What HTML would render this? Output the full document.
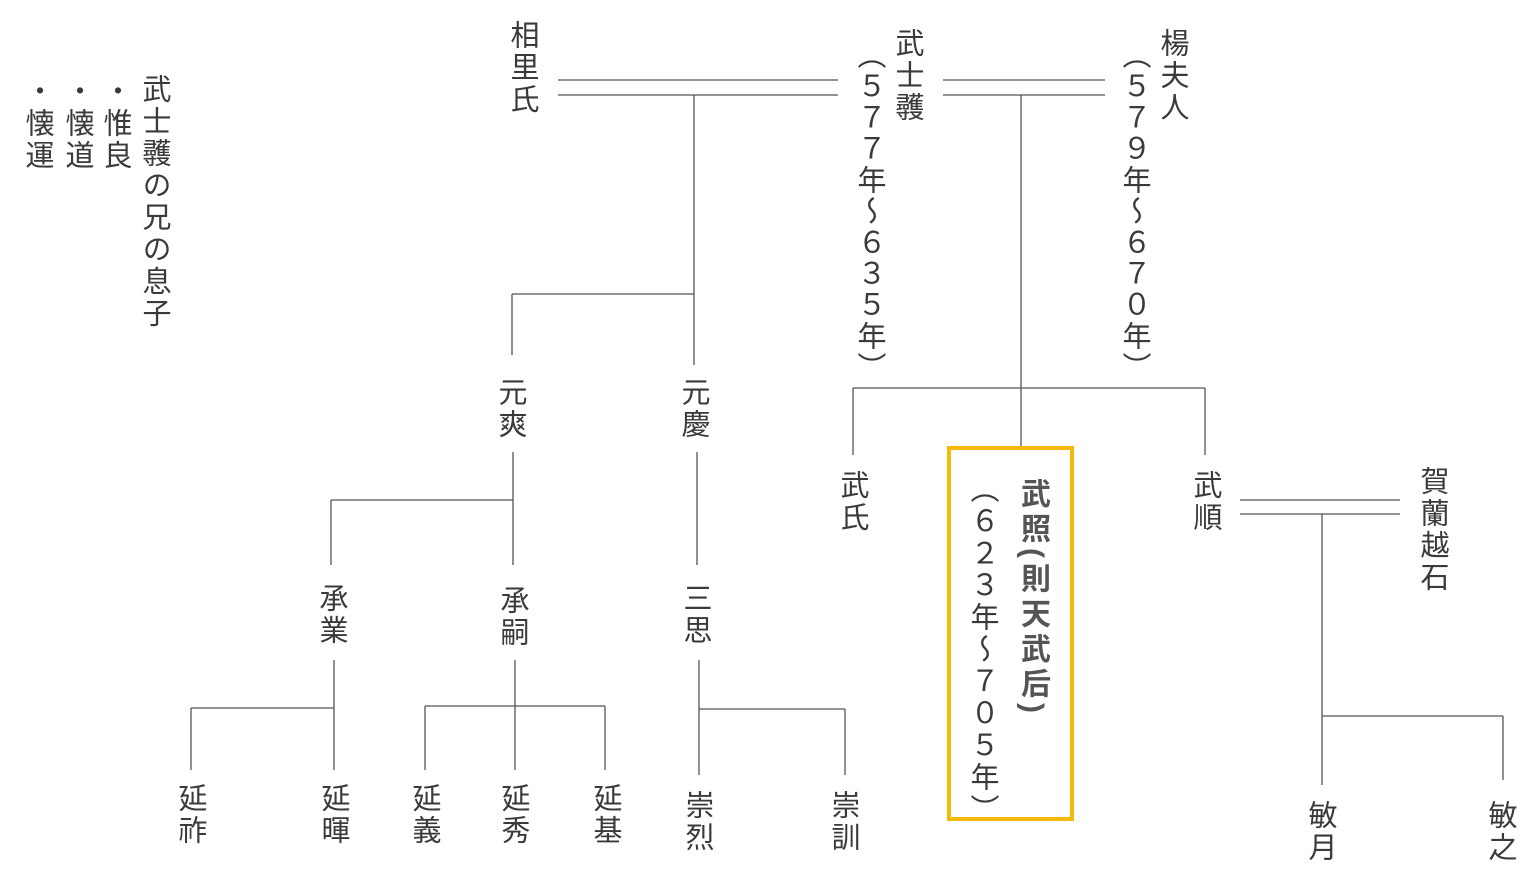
<!DOCTYPE html>
<html><head><meta charset="utf-8"><style>
html,body{margin:0;padding:0;background:#fff;}
body{width:1536px;height:887px;position:relative;overflow:hidden;}
.t{position:absolute;writing-mode:vertical-rl;font-family:"Liberation Sans","Noto Sans CJK JP",sans-serif;font-size:29px;letter-spacing:3px;color:#3a3a3a;line-height:32px;width:32px;white-space:nowrap;margin-left:-3px;}
.p{letter-spacing:2.2px;}
.b{font-weight:bold;color:#555;letter-spacing:5px;font-size:30px;}
svg{position:absolute;left:0;top:0;}
.box{position:absolute;left:947px;top:446px;width:119px;height:367px;border:4px solid #f5b90a;}
</style></head><body>
<svg width="1536" height="887" stroke="#555" stroke-width="1.3" fill="none">
<path d="M558 80H838M558 95H838M943 80H1105M943 95H1105"/>
<path d="M694 95V365M512 294H694M512 294V355"/>
<path d="M1021 95V446M853 388H1205M853 388V455M1205 388V455"/>
<path d="M1240 500H1400M1240 514H1400M1322 514V785M1322 716H1503M1503 716V780"/>
<path d="M513 452V565M331 500H513M331 500V565M697 452V565"/>
<path d="M334 660V770M191 708H334M191 708V770"/>
<path d="M515 660V770M425 706H605M425 706V770M605 706V770"/>
<path d="M699 660V775M699 709H845M845 709V775"/>
</svg>
<div class="box"></div>
<div class="t" style="left:141px;top:74px">武士彠の兄の息子</div>
<div class="t" style="left:102px;top:76px">・惟良</div>
<div class="t" style="left:64px;top:76px">・懐道</div>
<div class="t" style="left:24px;top:76px">・懐運</div>
<div class="t" style="left:509px;top:20px">相里氏</div>
<div class="t" style="left:894px;top:28px">武士彠</div>
<div class="t p" style="left:856px;top:40px">（５７７年～６３５年）</div>
<div class="t" style="left:1159px;top:28px">楊夫人</div>
<div class="t p" style="left:1121px;top:40px">（５７９年～６７０年）</div>
<div class="t" style="left:497px;top:377px">元爽</div>
<div class="t" style="left:680px;top:377px">元慶</div>
<div class="t" style="left:839px;top:470px">武氏</div>
<div class="t b" style="left:1019px;top:478px">武照(則天武后)</div>
<div class="t" style="left:969px;top:474px">（６２３年～７０５年）</div>
<div class="t" style="left:1192px;top:470px">武順</div>
<div class="t" style="left:1419px;top:466px">賀蘭越石</div>
<div class="t" style="left:318px;top:583px">承業</div>
<div class="t" style="left:499px;top:585px">承嗣</div>
<div class="t" style="left:682px;top:583px">三思</div>
<div class="t" style="left:177px;top:783px">延祚</div>
<div class="t" style="left:320px;top:783px">延暉</div>
<div class="t" style="left:411px;top:783px">延義</div>
<div class="t" style="left:500px;top:783px">延秀</div>
<div class="t" style="left:592px;top:783px">延基</div>
<div class="t" style="left:684px;top:790px">崇烈</div>
<div class="t" style="left:830px;top:790px">崇訓</div>
<div class="t" style="left:1307px;top:800px">敏月</div>
<div class="t" style="left:1487px;top:800px">敏之</div>
</body></html>
